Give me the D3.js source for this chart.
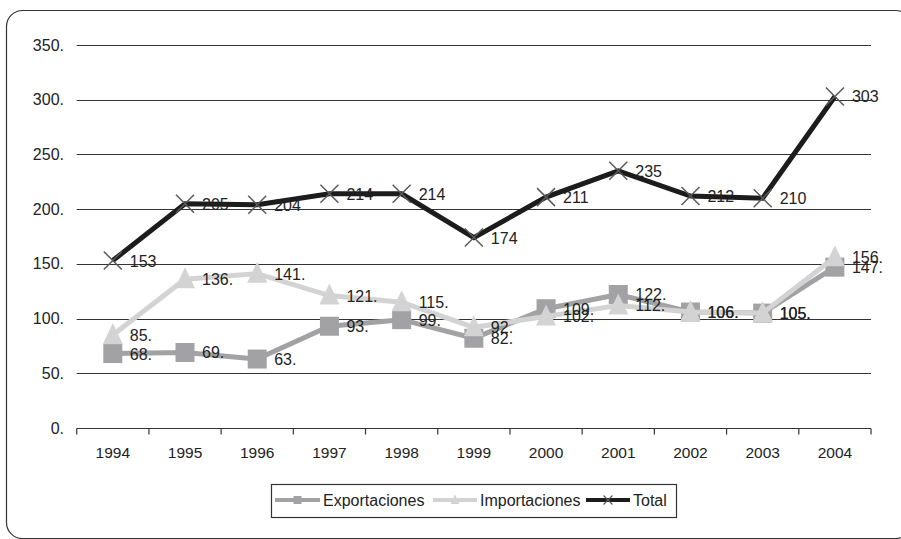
<!DOCTYPE html>
<html><head><meta charset="utf-8">
<script src="https://cdn.jsdelivr.net/npm/d3@7"></script>
<style>body{margin:0;background:#fff}svg{display:block;font-family:"Liberation Sans",Arial,sans-serif}</style>
</head><body><svg id="c" width="901" height="539"></svg>
<script>
const years = ["1994","1995","1996","1997","1998","1999","2000","2001","2002","2003","2004"];
const exportaciones = [68,69,63,93,99,82,109,122,106,105,147];
const importaciones = [85,136,141,121,115,92,102,112,106,105,156];
const total = [153,205,204,214,214,174,211,235,212,210,303];
const yTicks = [0,50,100,150,200,250,300,350];
const seriesNames = ["Exportaciones","Importaciones","Total"];

const svg = d3.select("#c");
const L = 76.7, R = 871, T = 45, B = 428;
const x = d3.scaleBand().domain(years).range([L, R]);
const y = d3.scaleLinear().domain([0, 350]).range([B, T]);

svg.append("rect").attr("x",6.5).attr("y",10.5).attr("width",905).attr("height",528)
  .attr("rx",16).attr("fill","#fff").attr("stroke","#333").attr("stroke-width",1.2);

// gridlines
svg.append("g").selectAll("line").data(yTicks.filter(d=>d>0)).join("line")
  .attr("x1",L).attr("x2",R).attr("y1",d=>Math.round(y(d))+0.5).attr("y2",d=>Math.round(y(d))+0.5)
  .attr("stroke","#333").attr("stroke-width",1.2);

// y labels
svg.append("g").selectAll("text").data(yTicks).join("text")
  .attr("x",64).attr("y",d=>y(d)+5.5).attr("text-anchor","end")
  .attr("font-size",16).attr("fill","#222").text(d=>d+".");

// x axis
const gx = svg.append("g").attr("transform",`translate(0,${Math.round(B)+0.5})`);
gx.append("line").attr("x1",L).attr("x2",R).attr("stroke","#333").attr("stroke-width",1.2);
gx.selectAll("line.t").data(d3.range(years.length+1)).join("line").attr("class","t")
  .attr("x1",i=>L+i*x.step()).attr("x2",i=>L+i*x.step()).attr("y1",0).attr("y2",6)
  .attr("stroke","#333").attr("stroke-width",1.2);
gx.selectAll("text").data(years).join("text")
  .attr("x",d=>x(d)+x.bandwidth()/2).attr("y",29.5).attr("text-anchor","middle")
  .attr("font-size",15.5).attr("fill","#222").text(d=>d);

const cx = d => x(d)+x.bandwidth()/2;
const line = d3.line().x((d,i)=>cx(years[i])).y(d=>y(d));

const cols = {exp:"#a2a2a4", imp:"#d3d3d3", tot:"#1c1c1c"};

function sq(g, px, py, s, c){ g.append("rect").attr("x",px-s/2).attr("y",py-s/2).attr("width",s).attr("height",s).attr("fill",c); }
function tri(g, px, py, s, c){ g.append("path").attr("d",`M${px},${py-s*0.6}L${px+s/2},${py+s*0.45}L${px-s/2},${py+s*0.45}Z`).attr("fill",c); }
function cross(g, px, py, s, c, w){ const h=s/2; g.append("path").attr("d",`M${px-h},${py-h}L${px+h},${py+h}M${px-h},${py+h}L${px+h},${py-h}`).attr("stroke",c).attr("stroke-width",w).attr("fill","none"); }

// Exportaciones
const ge = svg.append("g");
ge.append("path").attr("d",line(exportaciones)).attr("fill","none").attr("stroke",cols.exp).attr("stroke-width",5);
exportaciones.forEach((v,i)=>sq(ge,cx(years[i]),y(v),19,cols.exp));
// Importaciones
const gi = svg.append("g");
gi.append("path").attr("d",line(importaciones)).attr("fill","none").attr("stroke",cols.imp).attr("stroke-width",5);
importaciones.forEach((v,i)=>tri(gi,cx(years[i]),y(v),20,cols.imp));
// Total
const gt = svg.append("g");
gt.append("path").attr("d",line(total)).attr("fill","none").attr("stroke",cols.tot).attr("stroke-width",5);
total.forEach((v,i)=>cross(gt,cx(years[i]),y(v),18,"#5a5a5a",1.5));

// labels
const lab = svg.append("g").attr("font-size",16).attr("fill","#222");
function labels(arr, suffix){
  arr.forEach((v,i)=>lab.append("text").attr("x",cx(years[i])+17).attr("y",y(v)+6).text(v+suffix));
}
labels(exportaciones,".");
labels(importaciones,".");
labels(total,"");

// legend
const lg = svg.append("g");
lg.append("rect").attr("x",271.5).attr("y",484.5).attr("width",405).attr("height",33).attr("fill","#fff").attr("stroke","#333").attr("stroke-width",1.2);
const items = [
  {n:seriesNames[0], x1:275, x2:320, tx:323, c:cols.exp, m:"sq"},
  {n:seriesNames[1], x1:433, x2:477, tx:480, c:cols.imp, m:"tri"},
  {n:seriesNames[2], x1:586, x2:630, tx:633, c:cols.tot, m:"x"}];
items.forEach(it=>{
  const ly = 500;
  lg.append("line").attr("x1",it.x1).attr("x2",it.x2).attr("y1",ly).attr("y2",ly).attr("stroke",it.c).attr("stroke-width",4);
  const mx=(it.x1+it.x2)/2;
  if(it.m==="sq") sq(lg,mx,ly,8,it.c);
  else if(it.m==="tri") tri(lg,mx,ly,9,it.c);
  else cross(lg,mx,ly,9,"#5a5a5a",1.2);
  lg.append("text").attr("x",it.tx).attr("y",ly+6).attr("font-size",16).attr("fill","#222").text(it.n);
});
</script></body></html>
